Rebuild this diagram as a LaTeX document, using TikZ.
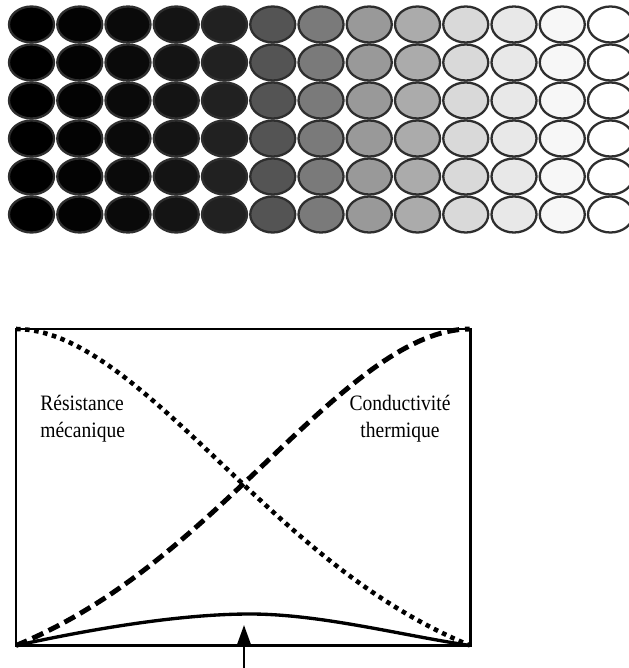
\documentclass[tikz,border=0pt]{standalone}
\usepackage{fontspec}
\setmainfont{Liberation Serif}
\usetikzlibrary{arrows.meta}

\begin{document}
\begin{tikzpicture}[x=0.2mm, y=-0.2mm, >={Triangle[length=11pt, width=7.5pt]},
    grain/.style={draw=black!82, line width=1.3pt},
    cadre/.style={line width=1.7pt},
    resis/.style={line width=2.6pt, dash pattern=on 2.6pt off 2.6pt},
    conduc/.style={line width=2.8pt, dash pattern=on 6.8pt off 3.4pt},
    etiquette/.style={inner sep=0pt, xscale=0.89, font=\fontsize{12.5}{15.3}\selectfont}]
  \useasboundingbox (0,0) rectangle (629,668);
  % grains: 13 colonnes x 6 rangees, du noir au blanc
  \foreach \c/\g in {0/100, 1/99, 2/96, 3/92, 4/87, 5/67, 6/52, 7/40, 8/33, 9/15, 10/9, 11/3, 12/0}
    \foreach \r in {0,...,5}
      \draw[grain, fill=black!\g] ({31.5+48.25*\c}, {24.5+38*\r}) ellipse [x radius=4.5mm, y radius=3.6mm];
  % cadre du graphe
  \coordinate (A) at (16,645.5);
  \coordinate (B) at (470,645.5);
  \coordinate (C) at (470,329);
  \coordinate (D) at (16,329);
  \draw[cadre] (A)--(B)--(C)--(D)--cycle;
  % resistance mecanique (pointilles) et conductivite thermique (tirets)
  \draw[resis] plot[domain=0:1, samples=80]
    ({16+454*\x}, {645.5-316.5*(0.6*(1-\x)+0.76*(1-\x)^2+0.68*(1-\x)^3-1.04*(1-\x)^4)});
  \draw[conduc] plot[domain=0:1, samples=80]
    ({16+454*\x}, {645.5-316.5*(0.6*\x+0.76*\x^2+0.68*\x^3-1.04*\x^4)});
  % compromis
  \coordinate (M) at (250,614);
  \draw[line width=1.9pt] (A) .. controls (110,625) and (190,614) .. (M)
    .. controls (320,614) and (400,635) .. (B);
  \coordinate (pied) at (244,668);
  \coordinate (pointe) at (244,625);
  \draw[->, line width=1.3pt] (pied) -- (pointe);
  % etiquettes
  \node[etiquette, anchor=north west, align=left] (res) at (40,395) {Résistance\\mécanique};
  \node[etiquette, anchor=north, align=center] (cond) at (400,395) {Conductivité\\thermique};
\end{tikzpicture}
\end{document}
